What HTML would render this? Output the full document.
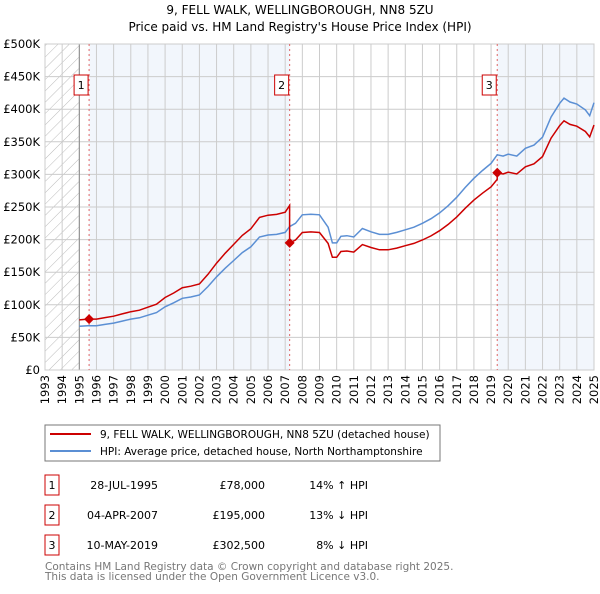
<!DOCTYPE html>
<html><head><meta charset="utf-8">
<style>
body{margin:0;background:#fff;font-family:"DejaVu Sans","Liberation Sans",sans-serif;}
svg text{font-family:"DejaVu Sans","Liberation Sans",sans-serif;}
</style></head>
<body>
<svg id="chart" width="600" height="590" viewBox="0 0 600 590" xmlns="http://www.w3.org/2000/svg">
<defs>
<pattern id="hatch" patternUnits="userSpaceOnUse" width="8" height="8" patternTransform="rotate(45)">
<line x1="0" y1="0" x2="0" y2="8" stroke="#bbb" stroke-width="1"/>
</pattern>
</defs>
<text x="300" y="14" text-anchor="middle" font-size="12">9, FELL WALK, WELLINGBOROUGH, NN8 5ZU</text>
<text x="300" y="31" text-anchor="middle" font-size="12">Price paid vs. HM Land Registry's House Price Index (HPI)</text>
<g id="plot"></g>
<g>
<rect x="45" y="425" width="395" height="36" fill="#fff" stroke="#777"/>
<line x1="50" y1="434" x2="91" y2="434" stroke="#cc0000" stroke-width="2"/>
<text x="100" y="438" font-size="10.5">9, FELL WALK, WELLINGBOROUGH, NN8 5ZU (detached house)</text>
<line x1="50" y1="451" x2="91" y2="451" stroke="#5b8fd4" stroke-width="2"/>
<text x="100" y="455" font-size="10.5">HPI: Average price, detached house, North Northamptonshire</text>
</g>
<g id="table" font-size="11"></g>
<text x="45" y="570" font-size="10.5" fill="#777">Contains HM Land Registry data © Crown copyright and database right 2025.</text>
<text x="45" y="580" font-size="10.5" fill="#777">This data is licensed under the Open Government Licence v3.0.</text>
</svg>
<script>
const hpiYears=[1995,1995.5,1996,1996.5,1997,1997.5,1998,1998.5,1999,1999.5,2000,2000.5,2001,2001.5,2002,2002.5,2003,2003.5,2004,2004.5,2005,2005.5,2006,2006.5,2007,2007.26,2007.6,2008,2008.5,2009,2009.5,2009.75,2010,2010.25,2010.6,2011,2011.5,2012,2012.5,2013,2013.5,2014,2014.5,2015,2015.5,2016,2016.5,2017,2017.5,2018,2018.5,2019,2019.36,2019.7,2020,2020.5,2021,2021.5,2022,2022.5,2023,2023.25,2023.6,2024,2024.5,2024.75,2025];
const hpiValues=[67,68,68,70,72,75,78,80,84,88,97,103,110,112,115,128,143,156,168,180,189,204,207,208,211,220,225,238,239,238,219,195,195,205,206,204,217,212,208,208,211,215,219,225,232,241,252,265,280,294,306,317,330,328,331,328,340,345,357,388,409,417,411,408,399,390,410];
const saleYears=[1995.57,2007.26,2019.36];
const salePrices=[78,195,302.5];
const saleLabels=['1','2','3'];
const saleDates=['28-JUL-1995','04-APR-2007','10-MAY-2019'];
const salePriceText=['£78,000','£195,000','£302,500'];
const saleDiffText=['14% ↑ HPI','13% ↓ HPI','8% ↓ HPI'];
const yTicks=[0,50,100,150,200,250,300,350,400,450,500];
const yTickLabels=['£0','£50K','£100K','£150K','£200K','£250K','£300K','£350K','£400K','£450K','£500K'];
const xTicks=[1993,1994,1995,1996,1997,1998,1999,2000,2001,2002,2003,2004,2005,2006,2007,2008,2009,2010,2011,2012,2013,2014,2015,2016,2017,2018,2019,2020,2021,2022,2023,2024,2025];

const X0=45,X1=594,Y0=370,Y1=44;
const x=y=>X0+(y-1993)*(X1-X0)/32;
const yv=v=>Y0-v*(Y0-Y1)/500;
const NS='http://www.w3.org/2000/svg';
const plot=document.getElementById('plot');
function mk(tag,attrs,parent){const e=document.createElementNS(NS,tag);for(const k in attrs)e.setAttribute(k,attrs[k]);(parent||plot).appendChild(e);return e;}
function hpiAt(t){for(let i=0;i<hpiYears.length-1;i++){if(t>=hpiYears[i]&&t<=hpiYears[i+1]){const f=(t-hpiYears[i])/(hpiYears[i+1]-hpiYears[i]);return hpiValues[i]+f*(hpiValues[i+1]-hpiValues[i]);}}return hpiValues[hpiValues.length-1];}

let e;
e=mk('rect',{x:X0,y:Y1,width:X1-X0,height:Y0-Y1,fill:'#fff'});


e=mk('rect',{x:x(saleYears[0]),y:Y1,width:x(saleYears[1])-x(saleYears[0]),height:Y0-Y1,fill:'#eef3fb',opacity:0.75});


e=mk('rect',{x:x(saleYears[2]),y:Y1,width:X1-x(saleYears[2]),height:Y0-Y1,fill:'#eef3fb',opacity:0.75});


e=mk('rect',{x:X0,y:Y1,width:x(1995)-X0,height:Y0-Y1,fill:'url(#hatch)'});


yTicks.forEach((t,i)=>{
  e=mk('line',{x1:X0,x2:X1,y1:yv(t),y2:yv(t),stroke:'#ccc','stroke-width':1});
  
  
  e=mk('text',{x:X0-5,y:yv(t)+4,'text-anchor':'end','font-size':11.5});
  e.textContent=yTickLabels[i];
  
  
});
xTicks.forEach(t=>{
  e=mk('line',{x1:x(t),x2:x(t),y1:Y1,y2:Y0,stroke:'#ccc','stroke-width':1});
  
  
  e=mk('text',{transform:`translate(${x(t)+4},${Y0+5}) rotate(-90)`,'text-anchor':'end','font-size':11.5});
  e.textContent=t;
  
  
});
e=mk('line',{x1:x(1995),x2:x(1995),y1:Y1,y2:Y0,stroke:'#888'});


e=mk('rect',{x:X0,y:Y1,width:X1-X0,height:Y0-Y1,fill:'none',stroke:'#ccc'});


saleYears.forEach((s,i)=>{
  e=mk('line',{x1:x(s),x2:x(s),y1:Y1,y2:Y0,stroke:'#e06666','stroke-dasharray':'2,3','stroke-width':1});
  
  
});
let d='';
hpiYears.forEach((t,i)=>{d+=(i?'L':'M')+x(t).toFixed(1)+','+yv(hpiValues[i]).toFixed(1);});
e=mk('path',{d:d,fill:'none',stroke:'#5b8fd4','stroke-width':1.5});


function seg(a,b,i){let p='';const r=salePrices[i]/hpiAt(saleYears[i]);const pts=[a].concat(hpiYears.filter(t=>t>a&&t<b)).concat([b]);pts.forEach((t,j)=>{p+=(j?'L':'M')+x(t).toFixed(1)+','+yv(hpiAt(t)*r).toFixed(1);});return p;}
let rd=seg(1995,saleYears[1],0);
rd+=seg(saleYears[1],saleYears[2],1).replace('M','L');
rd+=seg(saleYears[2],2025,2).replace('M','L');
e=mk('path',{d:rd,fill:'none',stroke:'#cc0000','stroke-width':1.5});


saleYears.forEach((s,i)=>{
  const cx=x(s),cy=yv(salePrices[i]);
  e=mk('path',{d:`M${cx},${cy-5}L${cx+5},${cy}L${cx},${cy+5}L${cx-5},${cy}Z`,fill:'#cc0000'});
  
  
  e=mk('rect',{x:cx-15,y:75,width:14,height:20,fill:'#fff',stroke:'#cc0000'});
  
  
  e=mk('text',{x:cx-8,y:89,'text-anchor':'middle','font-size':11});
  e.textContent=saleLabels[i];
  
  
});
const tbl=document.getElementById('table');
saleYears.forEach((s,i)=>{
  const ty=475+i*30;
  e=mk('rect',{x:45,y:ty,width:14,height:20,fill:'#fff',stroke:'#cc0000'},tbl);
  
  
  e=mk('text',{x:52,y:ty+14,'text-anchor':'middle'},tbl);e.textContent=saleLabels[i];
  
  
  e=mk('text',{x:158,y:ty+14,'text-anchor':'end'},tbl);e.textContent=saleDates[i];
  
  
  e=mk('text',{x:265,y:ty+14,'text-anchor':'end'},tbl);e.textContent=salePriceText[i];
  
  
  e=mk('text',{x:368,y:ty+14,'text-anchor':'end'},tbl);e.textContent=saleDiffText[i];
  
  
});
</script>
</body></html>
